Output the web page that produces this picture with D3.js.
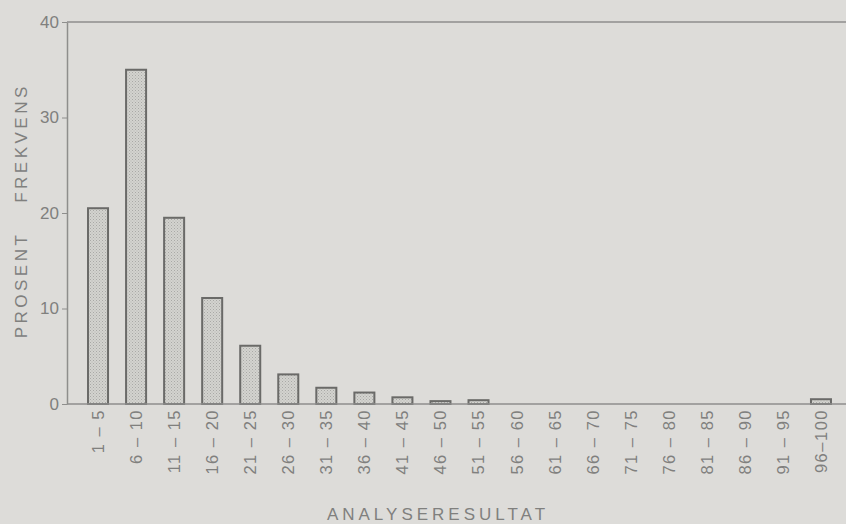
<!DOCTYPE html>
<html>
<head>
<meta charset="utf-8">
<script src="https://cdn.jsdelivr.net/npm/d3@7"></script>
<style>
  html, body { margin: 0; padding: 0; background: #dddcd9; }
  svg { display: block; font-family: "Liberation Sans", "DejaVu Sans", sans-serif; }
</style>
</head>
<body>
<div id="chart"></div>
<script>
// Data
const categories = ["1 – 5", "6 – 10", "11 – 15", "16 – 20", "21 – 25", "26 – 30", "31 – 35",
  "36 – 40", "41 – 45", "46 – 50", "51 – 55", "56 – 60", "61 – 65", "66 – 70", "71 – 75",
  "76 – 80", "81 – 85", "86 – 90", "91 – 95", "96–100"];
const values = [20.5, 35, 19.5, 11.1, 6.1, 3.1, 1.7, 1.2, 0.7, 0.3, 0.4,
  0, 0, 0, 0, 0, 0, 0, 0, 0.5];
const yTicks = [0, 10, 20, 30, 40];

const W = 846, H = 524;
const plotLeft = 67, plotTop = 22, plotBottom = 404;
const txt = "#80807e";
const lineCol = "#8e8e8c";

const data = categories.map((c, i) => ({ cat: c, v: values[i] }));

const svg = d3.select("#chart").append("svg")
  .attr("width", W).attr("height", H);

svg.append("rect").attr("width", W).attr("height", H).attr("fill", "#dddcd9");

// stipple fill
const pat = svg.append("defs").append("pattern")
  .attr("id", "dots").attr("patternUnits", "userSpaceOnUse")
  .attr("width", 3).attr("height", 3);
pat.append("rect").attr("width", 3).attr("height", 3).attr("fill", "#d3d3cf");
pat.append("rect").attr("width", 1).attr("height", 1).attr("fill", "#a9a9a6");
pat.append("rect").attr("x", 1.5).attr("y", 1.5).attr("width", 1).attr("height", 1).attr("fill", "#b6b6b2");

const x = d3.scaleBand()
  .domain(categories)
  .range([79, 840])
  .paddingInner(0.474)
  .paddingOuter(0.237);

const y = d3.scaleLinear().domain([0, 40]).range([plotBottom, plotTop]);

// frame top line
svg.append("line")
  .attr("x1", plotLeft).attr("x2", W).attr("y1", y(40)).attr("y2", y(40))
  .attr("stroke", lineCol).attr("stroke-width", 1.5);

// y axis
const yAxis = svg.append("g")
  .attr("transform", `translate(${plotLeft},0)`)
  .call(d3.axisLeft(y).tickValues(yTicks).tickSize(5).tickPadding(3).tickSizeOuter(0));
yAxis.select(".domain").attr("stroke", lineCol).attr("stroke-width", 1.5);
yAxis.selectAll(".tick line").attr("stroke", lineCol);
yAxis.selectAll(".tick text")
  .attr("fill", txt).style("font-size", "17px");

// bars
svg.selectAll(".bar")
  .data(data.filter(d => d.v > 0))
  .enter().append("rect")
    .attr("class", "bar")
    .attr("x", d => x(d.cat))
    .attr("y", d => y(d.v))
    .attr("width", x.bandwidth())
    .attr("height", d => y(0) - y(d.v))
    .attr("fill", "url(#dots)")
    .attr("stroke", "#6a6a68")
    .attr("stroke-width", 2);

// x axis line
svg.append("line")
  .attr("x1", plotLeft).attr("x2", W).attr("y1", y(0)).attr("y2", y(0))
  .attr("stroke", lineCol).attr("stroke-width", 1.5);

// category labels, rotated
svg.selectAll(".xlab")
  .data(data)
  .enter().append("text")
    .attr("class", "xlab")
    .attr("transform", d => `translate(${x(d.cat) + x.bandwidth() / 2},409) rotate(-90)`)
    .attr("dy", "0.36em")
    .attr("text-anchor", "end")
    .attr("fill", txt)
    .style("font-size", "16.5px")
    .style("letter-spacing", "1.5px")
    .text(d => d.cat);

// axis titles
svg.append("text")
  .attr("x", 438).attr("y", 520)
  .attr("text-anchor", "middle")
  .attr("fill", txt)
  .style("font-size", "17px")
  .style("letter-spacing", "4px")
  .text("ANALYSERESULTAT");

svg.append("text")
  .attr("transform", "translate(21,285) rotate(-90)")
  .attr("dy", "0.36em")
  .attr("text-anchor", "middle")
  .attr("fill", txt)
  .style("font-size", "17px")
  .style("letter-spacing", "3.5px")
  .text("PROSENT");

svg.append("text")
  .attr("transform", "translate(21,143) rotate(-90)")
  .attr("dy", "0.36em")
  .attr("text-anchor", "middle")
  .attr("fill", txt)
  .style("font-size", "17px")
  .style("letter-spacing", "3.5px")
  .text("FREKVENS");
</script>
</body>
</html>
